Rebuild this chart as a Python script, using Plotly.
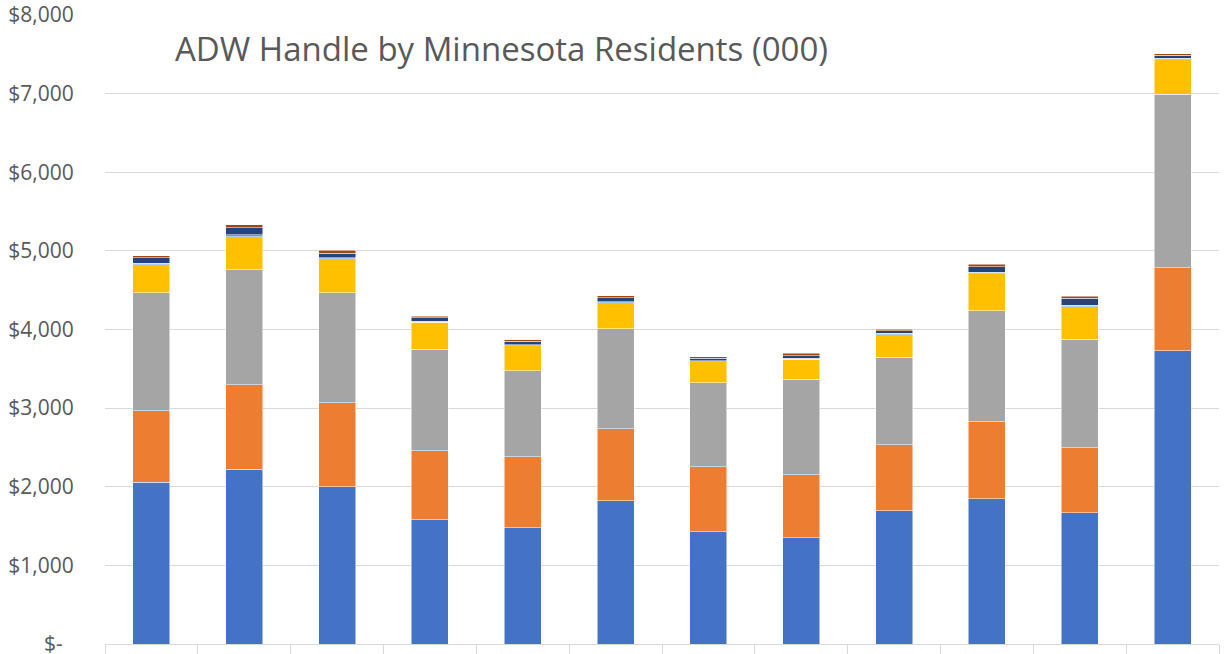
import plotly.graph_objects as go

categories = ["1", "2", "3", "4", "5", "6", "7", "8", "9", "10", "11", "12"]

series_names = ["Series 1", "Series 2", "Series 3", "Series 4", "Series 5", "Series 6", "Series 7"]
series_colors = ["#4472C4", "#ED7D31", "#A5A5A5", "#FFC000", "#5B9BD5", "#264478", "#9E480E"]

s1 = [2060, 2225, 2000, 1580, 1476, 1820, 1425, 1350, 1692, 1845, 1667, 3728]
s2 = [905, 1070, 1070, 875, 904, 915, 827, 800, 840, 983, 827, 1056]
s3 = [1500, 1465, 1400, 1295, 1095, 1275, 1072, 1218, 1118, 1412, 1383, 2206]
s4 = [357, 418, 428, 340, 317, 330, 268, 254, 285, 470, 414, 444]
s5 = [18, 25, 17, 15, 13, 15, 13, 13, 15, 20, 19, 13]
s6 = [75, 94, 55, 45, 45, 50, 30, 29, 36, 70, 85, 38]
s7 = [21, 38, 38, 20, 20, 25, 16, 31, 18, 30, 25, 21]

tick_vals = [0, 1000, 2000, 3000, 4000, 5000, 6000, 7000, 8000]
tick_text = ["$-\u00a0\u00a0", "$1,000", "$2,000", "$3,000", "$4,000",
             "$5,000", "$6,000", "$7,000", "$8,000"]

title_text = "ADW Handle by Minnesota Residents (000)"

fig = go.Figure()
for name, color, vals in zip(series_names, series_colors, [s1, s2, s3, s4, s5, s6, s7]):
    fig.add_trace(go.Bar(x=categories, y=vals, name=name,
                         marker=dict(color=color, line=dict(color="white", width=0.5))))

fig.update_layout(
    barmode="stack",
    bargap=0.6,
    width=1224, height=654,
    margin=dict(l=105, r=5, t=15, b=10, autoexpand=False),
    plot_bgcolor="white", paper_bgcolor="white",
    showlegend=False,
    font=dict(family="Open Sans, Liberation Sans, sans-serif", color="#595959", size=16),
)
fig.update_xaxes(
    type="category",
    showticklabels=False,
    showline=True, linecolor="#D9D9D9", linewidth=1,
    ticks="outside", tickson="boundaries", ticklen=10, tickcolor="#D9D9D9",
    showgrid=False, automargin=False,
)
fig.update_yaxes(
    range=[0, 8000],
    tickvals=tick_vals, ticktext=tick_text,
    showgrid=True, gridcolor="#D9D9D9", gridwidth=1,
    showline=False, zeroline=False,
    ticks="outside", ticklen=26, tickcolor="rgba(0,0,0,0)",
    tickfont=dict(size=21, color="#595959"),
    ticklabeloverflow="allow",
    automargin=False,
)
fig.add_annotation(
    text=title_text, xref="paper", yref="paper",
    x=(173 - 105) / (1219 - 105), y=(644 - 48) / 629, xanchor="left", yanchor="middle",
    showarrow=False,
    font=dict(family="Open Sans, Liberation Sans, sans-serif", size=33, color="#595959"),
)

fig.write_html("out.html", config={"displayModeBar": False},
               post_script="document.body.style.margin='0';")
